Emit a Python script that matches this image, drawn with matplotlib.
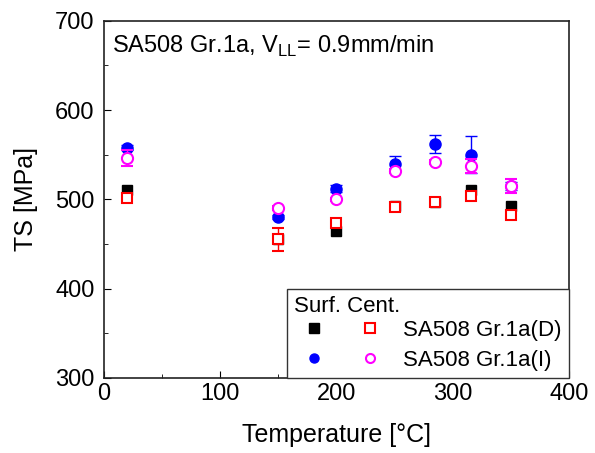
import matplotlib
matplotlib.use("Agg")
import matplotlib.pyplot as plt
from matplotlib.legend_handler import HandlerTuple
from matplotlib.ticker import MultipleLocator

plt.rcParams['font.family'] = ['Liberation Sans', 'DejaVu Sans']

temps = [20, 150, 200, 250, 285, 316, 350]
d_surf = [510, 455, 465, 492, 497, 511, 492]
d_cent = [502, 455, 473, 491, 497, 504, 482]
d_cent_err = [3, 13, 3, 2, 2, 2, 2]
i_surf = [558, 480, 512, 540, 562, 550, 515]
i_surf_err = [3, 2, 4, 8, 10, 21, 4]
i_cent = [546, 490, 500, 532, 542, 537, 515]
i_cent_err = [9, 2, 2, 2, 2, 8, 8]

fig = plt.figure(figsize=(5.95, 4.53), dpi=100)
ax = fig.add_axes([0.175, 0.166, 0.781, 0.788])

ax.errorbar(temps, i_surf, yerr=i_surf_err, fmt='o', color='#0000ff', ms=8,
            capsize=4, elinewidth=1, zorder=3)
h_is, = ax.plot([], [], 'o', color='#0000ff', ms=6.5)
ax.errorbar(temps, d_surf, fmt='s', color='black', ms=7, zorder=3)
h_ds, = ax.plot([], [], 's', color='black', ms=6.5)
ax.errorbar(temps, i_cent, yerr=i_cent_err, fmt='o', mfc='white', mec='#ff00ff',
            mew=1.5, ecolor='#ff00ff', ms=8, capsize=4, elinewidth=1, zorder=4)
h_ic, = ax.plot([], [], 'o', mfc='white', mec='#ff00ff', mew=1.5, ms=6.5)
ax.errorbar(temps, d_cent, yerr=d_cent_err, fmt='s', mfc='white', mec='#ff0000',
            mew=1.5, ecolor='#ff0000', ms=7, capsize=4, elinewidth=1, zorder=4)
h_dc, = ax.plot([], [], 's', mfc='white', mec='#ff0000', mew=1.5, ms=6.5)

ax.set_xlim(0, 400)
ax.set_ylim(300, 700)
ax.xaxis.set_major_locator(MultipleLocator(100))
ax.xaxis.set_minor_locator(MultipleLocator(50))
ax.yaxis.set_major_locator(MultipleLocator(100))
ax.yaxis.set_minor_locator(MultipleLocator(50))
ax.tick_params(which='both', direction='in', top=False, right=False, labelsize=17)
ax.tick_params(which='major', length=5)
ax.tick_params(which='minor', length=3)
ax.tick_params(axis='x', which='major', pad=4)
ax.tick_params(axis='y', which='major', pad=7)
for s in ax.spines.values():
    s.set_linewidth(1.2)
    s.set_color('#222222')

ax.set_xlabel('Temperature [°C]', fontsize=18, labelpad=13)
ax.set_ylabel('TS [MPa]', fontsize=18, labelpad=12)

ax.text(0.018, 0.965, r'SA508 Gr.1a, V$_{\mathregular{LL}}$= 0.9mm/min', transform=ax.transAxes,
        fontsize=17, va='top', ha='left')

leg = ax.legend([(h_ds, h_dc), (h_is, h_ic)], ['SA508 Gr.1a(D)', 'SA508 Gr.1a(I)'],
                handler_map={tuple: HandlerTuple(ndivide=None, pad=0.72)},
                title='Surf. Cent.', title_fontsize=16, fontsize=16,
                loc='lower right', bbox_to_anchor=(1.0, 0.0), borderaxespad=0.0,
                fancybox=False, edgecolor='#333333', framealpha=1,
                handlelength=4.32, handletextpad=0.59, labelspacing=0.4,
                borderpad=0.32, alignment='left')
leg.get_frame().set_linewidth(1.0)
leg._legend_box.sep = 2

fig.savefig('out.png', dpi=100)
